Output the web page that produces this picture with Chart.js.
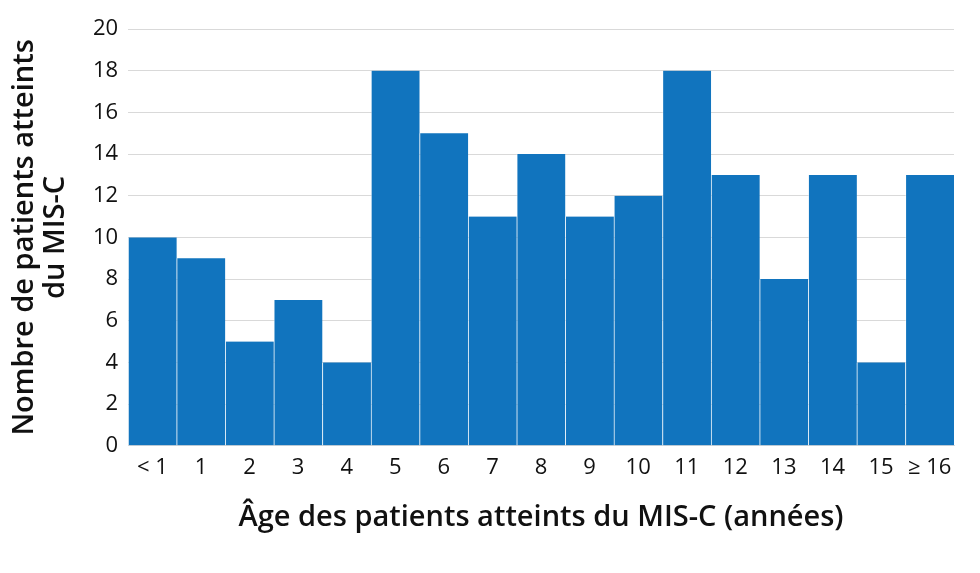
<!DOCTYPE html>
<html><head><meta charset="utf-8">
<script src="https://cdn.jsdelivr.net/npm/chart.js@4/dist/chart.umd.min.js"></script>
<style>html,body{margin:0;padding:0;background:#fff}#wrap{width:980px;height:573px}</style>
</head><body><div id="wrap"><canvas id="c" width="980" height="573"></canvas></div>
<script>
const categories = ['< 1','1','2','3','4','5','6','7','8','9','10','11','12','13','14','15','≥ 16'];
const patients = [10,9,5,7,4,18,15,11,14,11,12,18,13,8,13,4,13];
const yTicks = [0,2,4,6,8,10,12,14,16,18,20];
const yTitle = ['Nombre de patients atteints','du MIS-C'];
const xTitle = 'Âge des patients atteints du MIS-C (années)';
const font = '"Open Sans", Lato, sans-serif';
new Chart(document.getElementById('c'), {
  type: 'bar',
  data: { labels: categories, datasets: [{ data: patients, backgroundColor: '#1174be',
    borderColor: 'rgba(255,255,255,0.45)', borderWidth: {left:1,right:0,top:0,bottom:0}, borderSkipped: false,
    barPercentage: 1, categoryPercentage: 1 }] },
  options: {
    responsive: false, animation: false,
    layout: { padding: { left: 6, right: 26, top: 29, bottom: 34 } },
    plugins: { legend: { display: false }, tooltip: { enabled: false } },
    scales: {
      x: { grid: { display: false }, border: { color: '#d9d9d9' },
        ticks: { color: '#111', font: { family: font, size: 22 }, padding: 1, maxRotation: 0 },
        title: { display: true, text: xTitle, color: '#111', font: { family: font, size: 29, weight: '600' }, padding: { top: 18 } } },
      y: { min: 0, max: 20, afterBuildTicks: s => { s.ticks = yTicks.map(v => ({ value: v })); },
        grid: { color: '#d9d9d9', drawTicks: false }, border: { display: false },
        ticks: { color: '#111', font: { family: font, size: 22 }, padding: 10 },
        title: { display: true, text: yTitle, color: '#111', font: { family: font, size: 29, weight: '600', lineHeight: 1.05 }, padding: { bottom: 12 } } }
    }
  }
});
</script></body></html>
